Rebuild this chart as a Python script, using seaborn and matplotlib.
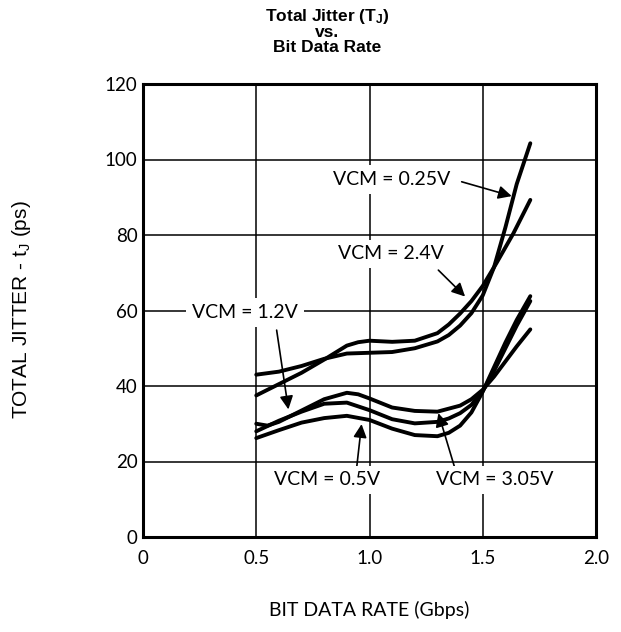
import matplotlib
matplotlib.use("Agg")
import matplotlib.pyplot as plt
import seaborn as sns
import pandas as pd

# ---- data ----
x_025 = [0.5, 0.6, 0.7, 0.8, 0.9, 1.0, 1.1, 1.2, 1.3, 1.35, 1.4, 1.45, 1.5, 1.55, 1.6, 1.65, 1.71]
y_025 = [43, 43.8, 45.3, 47.2, 48.6, 48.8, 49.0, 50.0, 51.8, 53.5, 56, 59.3, 64, 71.5, 82, 93.5, 104.3]

x_24 = [0.5, 0.6, 0.7, 0.8, 0.9, 0.95, 1.0, 1.1, 1.2, 1.3, 1.35, 1.4, 1.45, 1.5, 1.56, 1.635, 1.71]
y_24 = [37.5, 40.5, 43.5, 47, 50.7, 51.6, 52, 51.7, 52, 54, 56.3, 59.2, 62.5, 66.5, 72.5, 80.4, 89.3]

x_12 = [0.5, 0.55, 0.6, 0.7, 0.8, 0.9, 0.95, 1.0, 1.1, 1.2, 1.3, 1.4, 1.45, 1.5, 1.55, 1.6, 1.65, 1.71]
y_12 = [30, 29.5, 30.5, 33.5, 36.5, 38.2, 37.8, 36.7, 34.3, 33.4, 33.2, 34.8, 36.5, 39, 42.5, 46.5, 50.5, 55]

x_305 = [0.5, 0.6, 0.7, 0.8, 0.9, 1.0, 1.1, 1.2, 1.3, 1.35, 1.4, 1.45, 1.5, 1.55, 1.6, 1.65, 1.71]
y_305 = [28, 30.8, 33.2, 35.3, 35.6, 33.6, 31.2, 30.1, 30.5, 31.4, 32.8, 35, 38.7, 44, 50, 56, 62.5]

x_05 = [0.5, 0.6, 0.7, 0.8, 0.9, 1.0, 1.1, 1.2, 1.3, 1.35, 1.4, 1.45, 1.5, 1.55, 1.6, 1.65, 1.71]
y_05 = [26.2, 28.3, 30.3, 31.5, 32.1, 31, 28.7, 27, 26.7, 27.6, 29.5, 33, 38.5, 45, 51.5, 57.5, 63.8]

series_names = ["VCM = 0.25V", "VCM = 2.4V", "VCM = 1.2V", "VCM = 3.05V", "VCM = 0.5V"]

x_ticks = [0, 0.5, 1.0, 1.5, 2.0]
x_tick_labels = ["0", "0.5", "1.0", "1.5", "2.0"]
y_ticks = [0, 20, 40, 60, 80, 100, 120]
y_tick_labels = ["0", "20", "40", "60", "80", "100", "120"]

# annotation: label, text position (data), arrow start and tip (data)
ann_labels = ["VCM = 0.25V", "VCM = 2.4V", "VCM = 1.2V", "VCM = 0.5V", "VCM = 3.05V"]
ann_text_xy = [(1.098, 94.7), (1.094, 75.0), (0.45, 59.4), (0.811, 15.1), (1.554, 15.1)]
ann_arrow_start = [(1.407, 94.1), (1.304, 70.7), (0.590, 54.8), (0.943, 18.2), (1.377, 18.2)]
ann_arrow_tip = [(1.628, 90.3), (1.422, 63.7), (0.642, 33.8), (0.965, 29.9), (1.304, 32.8)]

# ---- build table ----
frames = []
for name, xs, ys in zip(series_names, [x_025, x_24, x_12, x_305, x_05],
                        [y_025, y_24, y_12, y_305, y_05]):
    frames.append(pd.DataFrame({"rate": xs, "jitter": ys, "series": name}))
df = pd.concat(frames, ignore_index=True)

sns.set_theme(style="white")
plt.rcParams["font.family"] = ["Lato", "DejaVu Sans"]
plt.rcParams["mathtext.fontset"] = "custom"
plt.rcParams["mathtext.rm"] = "Liberation Sans"
plt.rcParams["mathtext.bf"] = "Liberation Sans:bold"
plt.rcParams["mathtext.it"] = "Liberation Sans:italic"

W, H = 621, 632
fig = plt.figure(figsize=(W / 100, H / 100), dpi=100)
ax = fig.add_axes([143 / W, (H - 537) / H, 453 / W, 453 / H])

sns.lineplot(data=df, x="rate", y="jitter", hue="series", units="series",
             estimator=None, sort=False, palette=["black"] * 5, legend=False,
             linewidth=2.8, ax=ax, zorder=3)
for ln in ax.lines:
    ln.set_solid_capstyle("round")
    ln.set_solid_joinstyle("round")

ax.set_xlim(0, 2)
ax.set_ylim(0, 120)
ax.set_xticks(x_ticks)
ax.set_xticklabels(x_tick_labels)
ax.set_yticks(y_ticks)
ax.set_yticklabels(y_tick_labels)
ax.tick_params(axis="both", length=0, labelsize=13.5, colors="black")
ax.tick_params(axis="x", pad=9)
ax.tick_params(axis="y", pad=4)
ax.grid(True, color="black", linewidth=1.1)
for s in ax.spines.values():
    s.set_color("black")
    s.set_linewidth(2.2)
    s.set_zorder(5)
ax.set_xlabel("")
ax.set_ylabel("")

for lab, txy, a0, a1 in zip(ann_labels, ann_text_xy, ann_arrow_start, ann_arrow_tip):
    ax.annotate("", xy=a1, xytext=a0,
                arrowprops=dict(arrowstyle="-|>", color="black", lw=1.2,
                                mutation_scale=20, shrinkA=0, shrinkB=0),
                zorder=4)
    ax.text(txy[0], txy[1], lab, ha="center", va="center", fontsize=14,
            color="black", zorder=6,
            bbox=dict(boxstyle="square,pad=0.3", fc="white", ec="none"))

# axis titles
fig.text(369 / W, 1 - 610 / H, "BIT DATA RATE (Gbps)", ha="center", va="center",
         fontsize=14, color="black")
fig.text(22 / W, 1 - 310 / H, r"TOTAL JITTER - t$_\mathrm{J}$ (ps)", ha="center",
         va="center", rotation=90, fontsize=15, color="black",
         family="Liberation Sans")

# chart title (one multi-line text)
title_text = "Total Jitter (T$_\\mathbf{J}$)\nvs.\nBit Data Rate"
fig.text(327 / W, 1 - 7 / H, title_text, ha="center", va="top", fontsize=12.5,
         fontweight="bold", family="Liberation Sans", color="black",
         linespacing=0.95, multialignment="center")

fig.savefig("out.png", dpi=100)
